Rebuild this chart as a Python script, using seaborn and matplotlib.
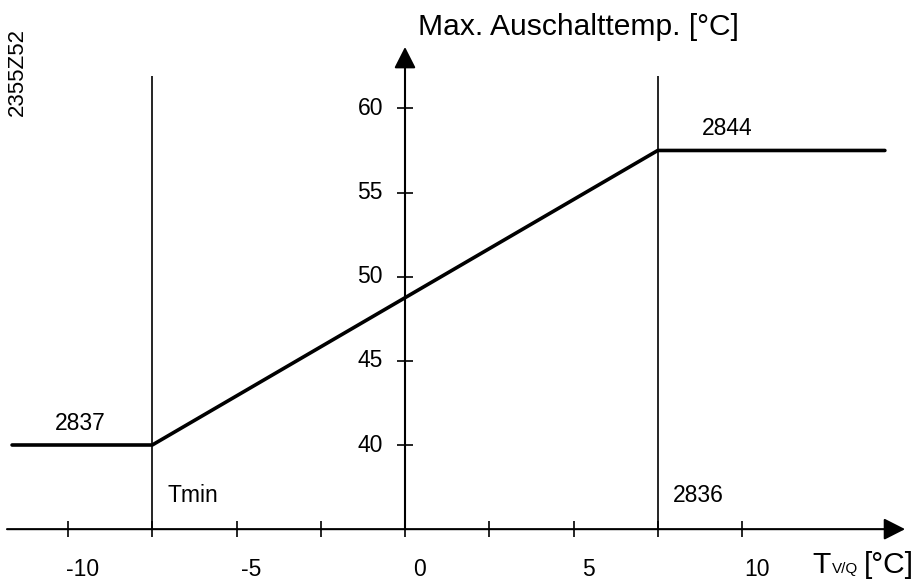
import matplotlib
matplotlib.use("Agg")
import matplotlib.pyplot as plt
import matplotlib.transforms as mtransforms
import seaborn as sns
import pandas as pd

# Heating curve: maximum switch-off temperature vs. outside/flow temperature
curve_x = [-11.66, -7.5, 7.5, 14.24]
curve_y = [40.0, 40.0, 57.5, 57.5]

# Parameter markers (vertical guides)
guide_x = [-7.5, 7.5]
guide_top = 61.9

# Axis ticks
x_major = [-10, -5, 0, 5, 10]
x_minor = [-7.5, -2.5, 2.5, 7.5]
x_labels = ["-10", "-5", "0", "5", "10"]
y_major = [40, 45, 50, 55, 60]
y_labels = ["40", "45", "50", "55", "60"]

x_axis_at = 35.0
x_range = (-11.81, 14.84)
y_range = (35.0, 63.65)

sns.set_style("white")
plt.rcParams["font.family"] = ["Liberation Sans", "DejaVu Sans"]
plt.rcParams["text.color"] = "black"

W, H, DPI = 918, 581, 100
fig = plt.figure(figsize=(W / DPI, H / DPI), dpi=DPI)
ax = fig.add_axes([0, 0, 1, 1])
ax.set_xlim(-405 / 33.7, (W - 405) / 33.7)
ax.set_ylim(40 - (H - 445) / 16.83, 40 + 445 / 16.83)

df = pd.DataFrame({"T": curve_x, "Tmax": curve_y})
sns.lineplot(data=df, x="T", y="Tmax", sort=False, estimator=None,
             color="black", linewidth=2.6, ax=ax, legend=False)

for gx in guide_x:
    ax.plot([gx, gx], [x_axis_at, guide_top], color="black", lw=1.2,
            solid_capstyle="butt")

# Axes with arrowheads
arrow_kw = dict(arrowstyle="-|>,head_length=0.65,head_width=0.33",
                color="black", lw=1.5, mutation_scale=20,
                shrinkA=0, shrinkB=0)
ax.annotate("", xy=(x_range[1], x_axis_at), xytext=(x_range[0], x_axis_at),
            arrowprops=arrow_kw)
ax.annotate("", xy=(0, y_range[1]), xytext=(0, y_range[0]),
            arrowprops=arrow_kw)

for s in ["top", "right"]:
    ax.spines[s].set_visible(False)
ax.spines["left"].set_position(("data", 0))
ax.spines["bottom"].set_position(("data", x_axis_at))
ax.spines["left"].set_visible(False)
ax.spines["bottom"].set_visible(False)

ax.set_xticks(x_major)
ax.set_xticks(x_minor, minor=True)
ax.set_yticks(y_major)
ax.tick_params(axis="both", which="both", direction="inout", length=12,
               width=1.2, color="black", labelbottom=False, labelleft=False,
               bottom=True, left=True, top=False, right=False)
ax.set_xlabel("")
ax.set_ylabel("")
ax.grid(False)

fs = 16.5
xlab_tr = mtransforms.offset_copy(ax.transData, fig=fig, x=15, y=-40, units="dots")
for v, lab in zip(x_major, x_labels):
    ax.text(v, x_axis_at, lab, transform=xlab_tr, ha="center", va="center",
            fontsize=fs, color="black")
ylab_tr = mtransforms.offset_copy(ax.transData, fig=fig, x=-22, y=0, units="dots")
for v, lab in zip(y_major, y_labels):
    ax.text(0, v, lab, transform=ylab_tr, ha="right", va="center", fontsize=fs,
            color="black")

# Curve annotations
ax.text(-10.39, 40.9, "2837", fontsize=fs, va="baseline", ha="left")
ax.text(-7.06, 36.61, "Tmin", fontsize=fs, va="baseline", ha="left")
ax.text(7.95, 36.61, "2836", fontsize=fs, va="baseline", ha="left")
ax.text(8.81, 58.42, "2844", fontsize=fs, va="baseline", ha="left")

def fx(px):
    return px / W

def fy(py):
    return 1 - py / H

# Axis titles
fig.text(fx(418), fy(35), "Max. Auschalttemp. [°C]", fontsize=21.6, va="baseline")
fig.text(fx(812), fy(573), "T", fontsize=21.6, va="baseline")
fig.text(fx(832), fy(573), "V/Q", fontsize=11, va="baseline")
fig.text(fx(864), fy(573), "[°C]", fontsize=21.6, va="baseline")

# Drawing number
fig.text(fx(17), fy(28), "2355Z52", fontsize=16, rotation=90,
         ha="center", va="top")

fig.savefig("out.png", dpi=DPI)
